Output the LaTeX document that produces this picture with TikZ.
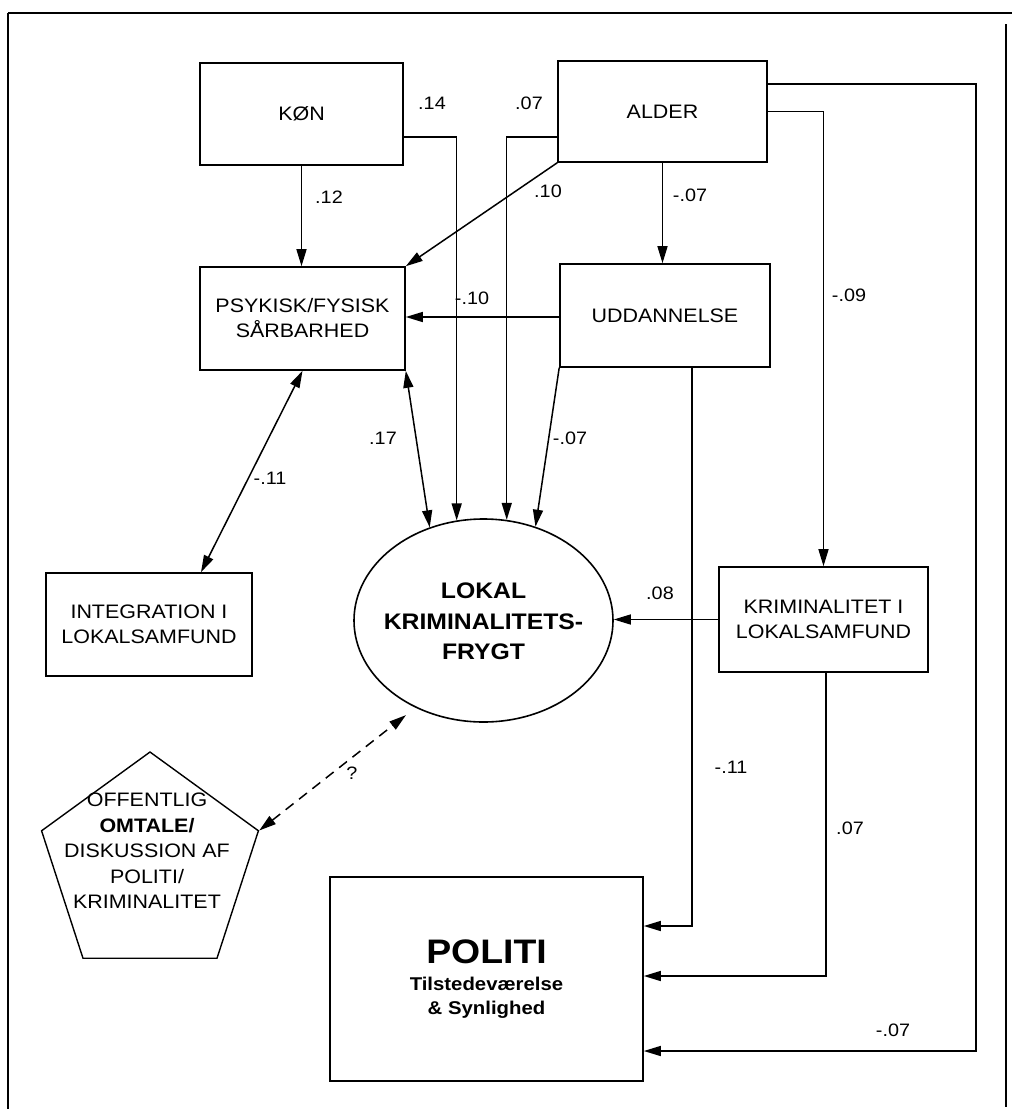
\documentclass[tikz,border=0pt]{standalone}
\usepackage{fontspec}
\setmainfont{Liberation Sans}[FakeStretch=1.1]
\usetikzlibrary{arrows.meta,shapes.geometric,calc}
\begin{document}
\begin{tikzpicture}[x=1pt,y=-1pt,
  box/.style={draw, rectangle, line width=1.6pt, inner sep=0pt, align=center,
    font={\fontsize{19.5}{25}\selectfont}},
  arr/.style={-{Triangle[length=17pt,width=10pt]}, line width=1.5pt},
  darr/.style={{Triangle[length=17pt,width=10pt]}-{Triangle[length=17pt,width=10pt]}, line width=1.5pt},
  num/.style={inner sep=0pt, font={\fontsize{18}{20}\selectfont}},
  frame/.style={line width=1.8pt}]
\useasboundingbox (0,0) rectangle (1012,1109);
\fill[white] (0,0) rectangle (1012,1109);

% page frame
\draw[frame] (8,13) -- (1012,13);
\draw[frame] (8,13) -- (8,1109);
\draw[line width=1.2pt] (1006,24) -- (1006,1107);

% variables
\node[box, minimum width=203pt, minimum height=102pt] (kon) at (301.5,114) {KØN};
\node[box, minimum width=209pt, minimum height=101pt] (alder) at (662.5,111.5) {ALDER};
\node[box, minimum width=205pt, minimum height=103pt] (psyk) at (302.5,318.5) {PSYKISK/FYSISK\\SÅRBARHED};
\node[box, minimum width=210pt, minimum height=103pt] (udd) at (665,315.5) {UDDANNELSE};
\node[box, minimum width=206pt, minimum height=103pt] (integ) at (149,624.5) {INTEGRATION I\\LOKALSAMFUND};
\node[box, minimum width=209pt, minimum height=105pt] (krim) at (823.5,619.5) {KRIMINALITET I\\LOKALSAMFUND};
\node[box, minimum width=313pt, minimum height=204pt, font={\bfseries\fontsize{18.5}{24}\selectfont}] (politi) at (486.5,979)
  {{\fontsize{34}{31}\selectfont POLITI}\\[3pt]Tilstedeværelse\\\& Synlighed};

% outcome
\node[draw, ellipse, line width=1.6pt, minimum width=259pt, minimum height=203pt, inner sep=0pt] (ell) at (483.5,620.5) {};
\node[align=center, inner sep=0pt, font={\bfseries\fontsize{22.5}{30.5}\selectfont}] (elltxt) at (483.5,621.5)
  {LOKAL\\KRIMINALITETS-\\FRYGT};

% media
\node[draw, regular polygon, regular polygon sides=5, minimum size=228pt, inner sep=0pt, line width=1.4pt] (pent) at (150,866) {};
\node[align=center, inner sep=0pt, font={\fontsize{19.5}{25.5}\selectfont}] (penttxt) at (147,851)
  {OFFENTLIG\\{\bfseries OMTALE/}\\DISKUSSION AF\\POLITI/\\KRIMINALITET};

% paths
\draw[arr] (kon.south) -- (kon.south |- psyk.north);
\draw[arr] (alder.south west) -- (psyk.north east);
\draw[arr] ($(kon.east)+(0,23)$) -| (ell.105);
\draw[arr] ($(alder.west)+(0,25.5)$) -| (ell.77);
\draw[arr] (alder.south) -- (alder.south |- udd.north);
\draw[arr] ($(udd.west)+(0,1.5)$) -- ($(udd.west -| psyk.east)+(0,1.5)$);
\draw[arr] (udd.south west) -- (ell.61);
\draw[darr] (psyk.south east) -- (ell.120);
\draw[darr] (psyk.south) -- ($(integ.north)+(52,0)$);
\draw[arr] (krim.west) -- (krim.west -| ell.east);
\draw[arr] ($(udd.south)+(27,0)$) |- ($(politi.east)+(0,-53)$);
\draw[arr] ($(krim.south)+(2.5,0)$) |- ($(politi.east)+(0,-3)$);
\draw[arr] ($(alder.east)+(0,-27.5)$) -- ++(208,0) |- ($(politi.east)+(0,72)$);
\draw[arr] (alder.east) -| (krim.north);
\draw[darr, dash pattern=on 10pt off 7pt, shorten >=12pt] (pent.corner 5) -- (ell.232);

% coefficients
\node[num] (c14) at (432,103) {.14};
\node[num] (c07a) at (529,103) {.07};
\node[num] (c12) at (329,197) {.12};
\node[num] (c10) at (548,191) {.10};
\node[num] (c07b) at (690,195) {-.07};
\node[num] (c09) at (849,295) {-.09};
\node[num] (c10n) at (472,298) {-.10};
\node[num] (c17) at (383,438) {.17};
\node[num] (c07c) at (570,438) {-.07};
\node[num] (c11a) at (270,478) {-.11};
\node[num] (c08) at (660,593) {.08};
\node[num] (cq) at (352,773) {?};
\node[num] (c11b) at (731,767) {-.11};
\node[num] (c07d) at (850,828) {.07};
\node[num] (c07e) at (893,1030) {-.07};
\end{tikzpicture}
\end{document}
